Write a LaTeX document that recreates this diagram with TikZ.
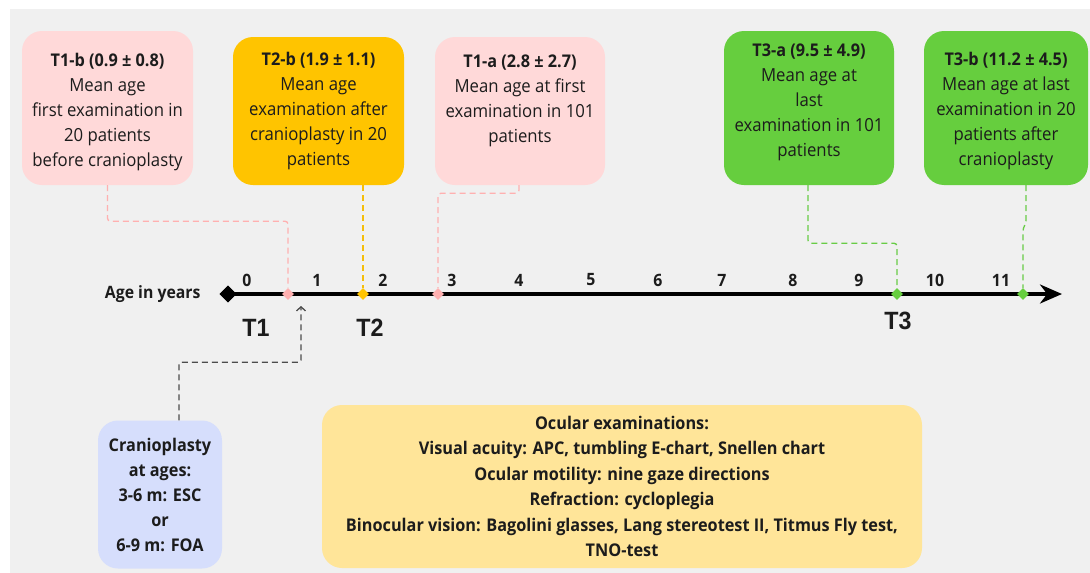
\documentclass[tikz,border=0pt]{standalone}
\usepackage{fontspec}
\setmainfont{Open Sans}[FakeStretch=0.93]
\newfontfamily\tfont{Liberation Sans}[FakeStretch=0.93]
\usetikzlibrary{shapes.geometric,arrows.meta}
\definecolor{canvas}{RGB}{240, 240, 240}
\definecolor{rosebox}{RGB}{255, 217, 217}
\definecolor{rosedash}{RGB}{255, 176, 176}
\definecolor{amberbox}{RGB}{255, 196, 0}
\definecolor{amberdash}{RGB}{245, 190, 10}
\definecolor{leafbox}{RGB}{102, 206, 62}
\definecolor{leafdash}{RGB}{104, 204, 70}
\definecolor{lilacbox}{RGB}{214, 222, 252}
\definecolor{creambox}{RGB}{255, 229, 153}
\definecolor{ink}{RGB}{28, 28, 28}
\newcommand{\cardtitle}[1]{\rule{0pt}{#1}}
\newcommand{\cardfoot}[1]{\rule[-#1]{0pt}{0pt}}
\tikzset{
    card/.style   ={rounded corners=20pt, inner sep=0pt, align=center, text=ink,
                    font=\fontsize{18pt}{25pt}\selectfont},
    hitpoint/.style={diamond, inner sep=0pt, minimum size=12pt},
    tick/.style   ={text=ink, font=\bfseries\fontsize{17pt}{19pt}\selectfont},
    tlabel/.style ={text=ink, font=\tfont\bfseries\fontsize{25pt}{27pt}\selectfont},
    link/.style   ={dash pattern=on 6pt off 4pt, line width=1.3pt, rounded corners=3pt}
}
\begin{document}
\begin{tikzpicture}[x=1pt,y=-1pt]
            \useasboundingbox (0,0) rectangle (1090,573);
            \fill[white]  (0,0)  rectangle (1090,573);
            \fill[canvas] (10,9) rectangle (1090,573);
            \node[card, fill=rosebox,  minimum width=171pt, minimum height=154pt] (t1b) at (107.5,108)
                 {\textbf{\fontsize{17.5pt}{25pt}\selectfont\cardtitle{21pt}T1-b (0.9 ± 0.8)}\\Mean age\\first examination in\\20 patients\\before cranioplasty};
            \node[card, fill=amberbox, minimum width=171pt, minimum height=148pt] (t2b) at (318.5,111)
                 {\textbf{\fontsize{17.5pt}{25pt}\selectfont T2-b (1.9 ± 1.1)}\\Mean age\\examination after\\cranioplasty in 20\\patients};
            \node[card, fill=rosebox,  minimum width=170pt, minimum height=148pt] (t1a) at (520,111)
                 {\textbf{\fontsize{17.5pt}{25pt}\selectfont T1-a (2.8 ± 2.7)}\\Mean age at first\\examination in 101\\patients\cardfoot{25pt}};
            \node[card, fill=leafbox,  minimum width=170pt, minimum height=154pt] (t3a) at (809,108)
                 {\textbf{\fontsize{17.5pt}{25pt}\selectfont T3-a (9.5 ± 4.9)}\\Mean age at\\last\\examination in 101\\patients\cardfoot{15pt}};
            \node[card, fill=leafbox,  minimum width=164pt, minimum height=154pt] (t3b) at (1006,108)
                 {\textbf{\fontsize{17.5pt}{25pt}\selectfont\cardtitle{20pt}T3-b (11.2 ± 4.5)}\\Mean age at last\\examination in 20\\patients after\\cranioplasty};
            \node[card, fill=lilacbox, minimum width=124pt, minimum height=148pt,
                  font=\bfseries\fontsize{17.5pt}{25pt}\selectfont] (cran) at (160,494.5)
                 {Cranioplasty\\at ages:\\3-6 m: ESC\\or\\6-9 m: FOA};
            \node[card, fill=creambox, minimum width=600pt, minimum height=163pt,
                  font=\bfseries\fontsize{17.5pt}{25.5pt}\selectfont] (exams) at (622,486.5)
                 {Ocular examinations:\\Visual acuity: APC, tumbling E-chart, Snellen chart\\Ocular motility: nine gaze directions\\Refraction: cycloplegia\\Binocular vision: Bagolini glasses, Lang stereotest II, Titmus Fly test,\\TNO-test};
            \node[tick, anchor=east] (agelabel) at (204,294) {Age in years};
            \node[diamond, fill=black, inner sep=0pt, minimum size=17pt] (origin) at (228,294) {};
            \coordinate (axend) at (1062,294);
            \draw[line width=3.5pt, -{Stealth[length=22pt,width=19pt]}] (origin.center) -- (axend);
            \node[diamond, fill=black, inner sep=0pt, minimum size=17pt] at (origin) {};
            \foreach \x/\lab in {247/0, 317/1, 383/2, 452/3, 519/4, 591/5, 658/6, 722/7, 793/8, 859/9, 935/10, 1001/11}
                \node[tick] (tick\lab) at (\x,280) {\lab};
            \node[hitpoint, fill=rosedash]  (m1b) at (288,294) {};
            \node[hitpoint, fill=amberbox]  (m2b) at (363,294) {};
            \node[hitpoint, fill=rosedash]  (m1a) at (438,294) {};
            \node[hitpoint, fill=leafbox]   (m3a) at (897,294) {};
            \node[hitpoint, fill=leafbox]   (m3b) at (1023,294) {};
            \node[tlabel] (T1) at (256,328) {T1};
            \node[tlabel] (T2) at (370,328) {T2};
            \node[tlabel] (T3) at (898,321) {T3};
            \draw[link, rosedash]  (t1b.south) -- ++(0,36) -| (m1b.north);
            \draw[link, amberdash] (t2b.south -| m2b) -- (m2b.north);
            \draw[link, rosedash]  (t1a.south) ++(-1,0) -- ++(0,8) -| (m1a.north);
            \draw[link, leafdash]  (t3a.south) ++(-1,0) -- ++(0,58) -| (m3a.north);
            \draw[link, leafdash]  (t3b.south) ++(20,0) -- ++(0,38) -- ++(-3,5) -- (m3b.north);
            \coordinate (craniotip) at (301,306);
            \draw[link, rounded corners=2pt, color=black!70, -{Straight Barb[length=4pt,width=9pt]}]
                 (cran.north) ++(19,0) -- ++(0,-58) -| (craniotip);
        \end{tikzpicture}
\end{document}
